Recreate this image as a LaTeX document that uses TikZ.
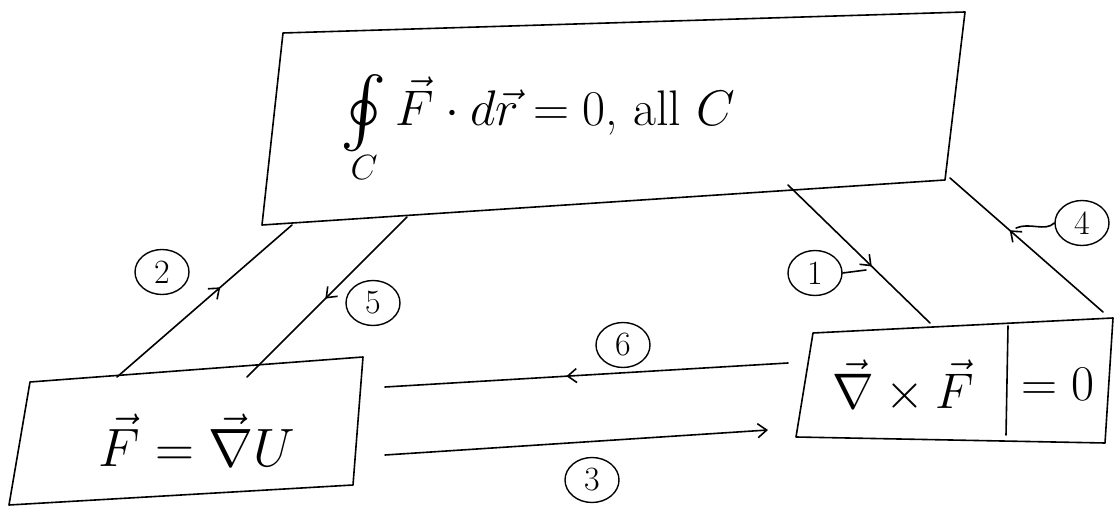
\RequirePackage{fix-cm}
\documentclass[tikz,border=0pt]{standalone}
\usepackage{amsmath}
\usepackage{graphicx}
\usetikzlibrary{shapes.geometric,decorations.markings,arrows.meta}
\tikzset{
  ink/.style={line width=1.6pt, line cap=round, line join=round},
  midarrow/.style={ink, postaction={decorate},
    decoration={markings, mark=at position #1 with {\arrow{Straight Barb[length=9pt,width=14pt,line width=1.6pt]}}}},
  endarrow/.style={ink, -{Straight Barb[length=9pt,width=14pt,line width=1.6pt]}},
  num/.style={ellipse, draw, line width=1.4pt, inner sep=0pt, minimum width=54pt, minimum height=45pt, font=\fontsize{34}{40}\selectfont},
  bigtext/.style={font=\fontsize{50}{60}\selectfont, inner sep=0pt},
}
\begin{document}
\begin{tikzpicture}[x=1pt,y=-1pt]
\useasboundingbox (0,0) rectangle (1116,510);
% top box
\coordinate (t1) at (283,33);
\coordinate (t2) at (965,12);
\coordinate (t3) at (945,180);
\coordinate (t4) at (262,225);
\draw[ink] (t1)--(t2)--(t3)--(t4)--cycle;
\node[bigtext] (top) at (538,128) {$\underset{C}{\vcenter{\hbox{\scalebox{2.8}{$\oint$}}}}\,\vec F\cdot d\vec r = 0$, all $C$};
% bottom-left box
\coordinate (l1) at (30,382);
\coordinate (l2) at (363,357);
\coordinate (l3) at (353,485);
\coordinate (l4) at (9,505);
\draw[ink] (l1)--(l2)--(l3)--(l4)--cycle;
\node[bigtext, font=\fontsize{54}{64}\selectfont] (grad) at (197,440) {$\vec F = \vec\nabla U$};
% bottom-right box
\coordinate (r1) at (813,333);
\coordinate (r2) at (1113,318);
\coordinate (r3) at (1105,443);
\coordinate (r4) at (796,437);
\coordinate (rd1) at (1008,326);
\coordinate (rd2) at (1006,435);
\draw[ink] (r1)--(r2)--(r3)--(r4)--cycle;
\draw[ink] (rd1)--(rd2);
\node[bigtext] (curl) at (903,386) {$\vec\nabla\times\vec F$};
\node[bigtext] (zero) at (1058,384) {$=0$};
% arrow endpoints
\coordinate (a2s) at (117,377); \coordinate (a2e) at (292,225);
\coordinate (a5s) at (407,217); \coordinate (a5e) at (247,377);
\coordinate (a1s) at (788,185); \coordinate (a1e) at (930,323);
\coordinate (a4s) at (1103,312); \coordinate (a4e) at (950,178);
\coordinate (a6s) at (788,363); \coordinate (a6e) at (385,387);
\coordinate (a3s) at (385,455); \coordinate (a3e) at (768,430);
\draw[midarrow=0.59] (a2s)--(a2e);
\draw[midarrow=0.51] (a5s)--(a5e);
\draw[midarrow=0.59] (a1s)--(a1e);
\draw[midarrow=0.61] (a4s)--(a4e);
\draw[midarrow=0.55] (a6s)--(a6e);
\draw[endarrow] (a3s)--(a3e);
% labels
\node[num] (n2) at (162,272) {2};
\node[num] (n5) at (373,303) {5};
\node[num] (n1) at (815,273) {1};
\node[num] (n4) at (1082,223) {4};
\node[num] (n6) at (623,345) {6};
\node[num] (n3) at (592,480) {3};
\coordinate (k1) at (866,270);
\coordinate (k4) at (1016,228);
\draw[ink] (n1.east)--(k1);
\draw[ink] (n4.west) .. controls (1045,232) and (1030,222) .. (k4);
\end{tikzpicture}
\end{document}
